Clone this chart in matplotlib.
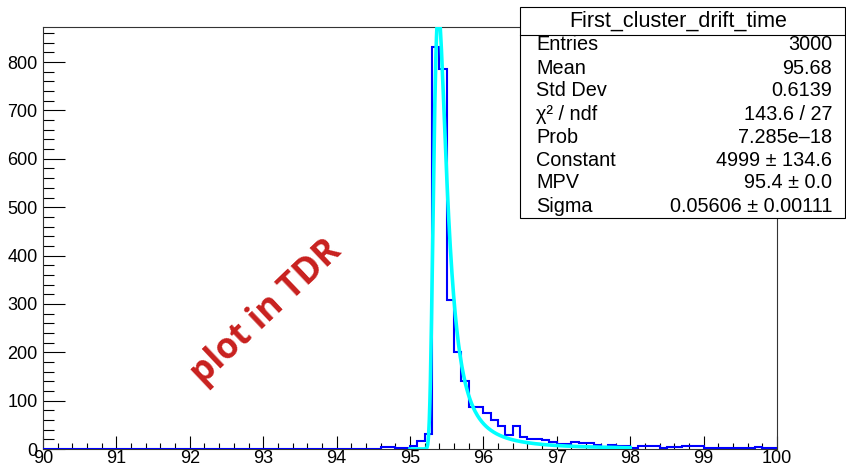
import numpy as np
import matplotlib
matplotlib.use("Agg")
import matplotlib.pyplot as plt
from matplotlib.patches import Rectangle
from matplotlib.ticker import MultipleLocator

# ---------------- data ----------------
bin_lo, bin_hi, n_bins = 90.0, 100.0, 100
counts = [
    # 90.0 - 94.9
    0, 0, 0, 0, 0, 0, 0, 0, 0, 0,
    0, 1, 0, 0, 0, 0, 0, 0, 0, 1,
    0, 0, 0, 0, 0, 1, 1, 0, 0, 1,
    0, 0, 0, 0, 1, 0, 1, 1, 1, 0,
    0, 1, 1, 0, 0, 1, 4, 4, 2, 2,
    # 95.0 - 99.9
    7, 16, 30, 831, 785, 309, 200, 140, 86, 86,
    74, 60, 48, 29, 48, 25, 20, 21, 18, 14,
    10, 10, 15, 12, 12, 8, 5, 9, 7, 7,
    3, 7, 7, 7, 2, 5, 5, 6, 6, 7,
    2, 2, 2, 2, 2, 2, 2, 4, 2, 3,
]
fit_constant = 4999.0
fit_mpv = 95.4
fit_sigma = 0.05606
fit_range = (95.0, 98.0)

hist_name = "First_cluster_drift_time"
stats_labels = ["Entries", "Mean", "Std Dev", "\u03c7\u00b2 / ndf", "Prob",
                "Constant", "MPV", "Sigma"]
stats_values = ["3000", "95.68", "0.6139", "143.6 / 27", "7.285e\u201318",
                "4999 \u00b1 134.6", "95.4 \u00b1 0.0", "0.05606 \u00b1 0.00111"]
watermark = "plot in TDR"


def landau_pdf(lam):
    lam = np.atleast_1d(np.asarray(lam, dtype=float))
    t = np.linspace(1e-9, 60.0, 120001)
    dt = t[1] - t[0]
    out = np.zeros_like(lam)
    base = -t * np.log(t)
    s = np.sin(np.pi * t)
    for i, l in enumerate(lam):
        if l < -3.2:
            out[i] = 0.0
            continue
        f = np.exp(base - l * t) * s
        out[i] = (np.sum(f) - 0.5 * (f[0] + f[-1])) * dt / np.pi
    return np.clip(out, 0, None)


# ---------------- figure ----------------
plt.rcParams["font.family"] = ["Liberation Sans", "DejaVu Sans"]
W, H = 846, 468
fig = plt.figure(figsize=(W / 100, H / 100), dpi=100)
L, R, T, B = 43, 777, 27, 449
ax = fig.add_axes([L / W, 1 - B / H, (R - L) / W, (B - T) / H])

edges = np.linspace(bin_lo, bin_hi, n_bins + 1)
ax.stairs(counts, edges, color="#0000ff", lw=1.5, baseline=0, zorder=3)

xf = np.linspace(fit_range[0], fit_range[1], 400)
yf = fit_constant * landau_pdf((xf - fit_mpv) / fit_sigma)
ax.plot(xf, yf, color="#00ffff", lw=2.6, zorder=4, solid_joinstyle="round")

ax.set_xlim(bin_lo, bin_hi)
ax.set_ylim(0, 1.05 * max(counts))

ax.xaxis.set_major_locator(MultipleLocator(1))
ax.xaxis.set_minor_locator(MultipleLocator(0.2))
ax.yaxis.set_major_locator(MultipleLocator(100))
ax.yaxis.set_minor_locator(MultipleLocator(20))
ax.tick_params(axis="x", which="major", direction="in", length=9.2, width=0.8,
               labelsize=13, pad=1, top=False)
ax.tick_params(axis="x", which="minor", direction="in", length=4.6, width=0.8, top=False)
ax.tick_params(axis="y", which="major", direction="in", length=15.8, width=0.8,
               labelsize=13, pad=4, right=False)
ax.tick_params(axis="y", which="minor", direction="in", length=7.9, width=0.8, right=False)
for sp in ax.spines.values():
    sp.set_linewidth(0.8)
    sp.set_color("#333333")

ax.text(93.05, 283, watermark, rotation=43.5, ha="center", va="center",
        rotation_mode="anchor", color="#c8201e", fontsize=25.5,
        family=["Open Sans", "DejaVu Sans"], fontweight="bold", zorder=5)

# ---------------- stats box ----------------
bx0, bx1, by0, by1, hdr = 520, 845, 7, 218, 35


def fx(px):
    return px / W


def fy(py):
    return 1 - py / H


fig.patches.append(Rectangle((fx(bx0), fy(by1)), fx(bx1) - fx(bx0), fy(by0) - fy(by1),
                             transform=fig.transFigure, facecolor="white",
                             edgecolor="black", lw=0.8, zorder=10))
fig.lines.append(plt.Line2D([fx(bx0), fx(bx1)], [fy(hdr), fy(hdr)],
                            transform=fig.transFigure, color="black", lw=0.8, zorder=11))
fig.text(fx(678), fy(21), hist_name, ha="center", va="center",
         fontsize=15.5, zorder=12)
row0, dy = 45, 23
for i, (lab, val) in enumerate(zip(stats_labels, stats_values)):
    yy = fy(row0 + i * dy)
    fig.text(fx(536), yy, lab, ha="left", va="center", fontsize=14.3, zorder=12)
    fig.text(fx(832), yy, val, ha="right", va="center", fontsize=14.3, zorder=12)

fig.savefig("out.png", dpi=100)
